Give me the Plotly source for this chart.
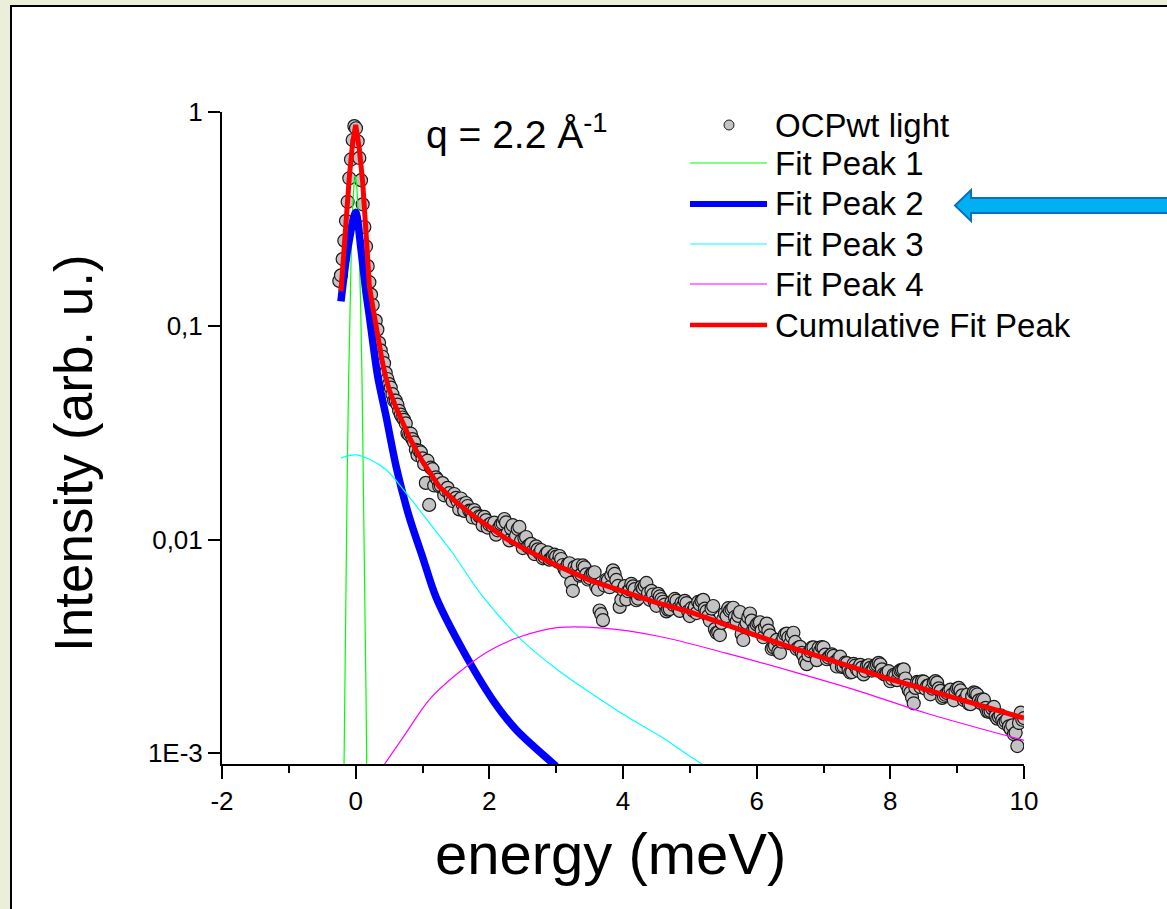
import plotly.graph_objects as go

# ---------------- data ----------------
energy_peak = [-0.245, -0.22, -0.195, -0.17, -0.145, -0.12, -0.095, -0.07, -0.045, -0.02,
               0.005, 0.03, 0.055, 0.08, 0.105, 0.13, 0.155, 0.18, 0.205, 0.23, 0.255]
log_int_peak = [-0.790, -0.764, -0.688, -0.602, -0.509, -0.420, -0.310, -0.222, -0.131, -0.066,
                -0.076, -0.137, -0.215, -0.319, -0.432, -0.538, -0.629, -0.721, -0.796, -0.854, -0.903]

energy_tail = [
    0.30, 0.35, 0.40, 0.45, 0.50, 0.55, 0.60, 0.65, 0.70, 0.75,
    0.80, 0.85, 0.90, 0.95, 1.00, 1.05, 1.10, 1.15, 1.20, 1.25,
    1.30, 1.35, 1.40, 1.45, 1.50, 1.55, 1.60, 1.65, 1.70, 1.75,
    1.80, 1.85, 1.90, 1.95, 2.00, 2.05, 2.10, 2.15, 2.20, 2.25,
    2.30, 2.35, 2.40, 2.45, 2.50, 2.55, 2.60, 2.65, 2.70, 2.75,
    2.80, 2.85, 2.90, 2.95, 3.00, 3.05, 3.10, 3.15, 3.20, 3.25,
    3.30, 3.35, 3.40, 3.45, 3.50, 3.55, 3.60, 3.65, 3.70, 3.75,
    3.80, 3.85, 3.90, 3.95, 4.00, 4.05, 4.10, 4.15, 4.20, 4.25,
    4.30, 4.35, 4.40, 4.45, 4.50, 4.55, 4.60, 4.65, 4.70, 4.75,
    4.80, 4.85, 4.90, 4.95, 5.00, 5.05, 5.10, 5.15, 5.20, 5.25,
    5.30, 5.35, 5.40, 5.45, 5.50, 5.55, 5.60, 5.65, 5.70, 5.75,
    5.80, 5.85, 5.90, 5.95, 6.00, 6.05, 6.10, 6.15, 6.20, 6.25,
    6.30, 6.35, 6.40, 6.45, 6.50, 6.55, 6.60, 6.65, 6.70, 6.75,
    6.80, 6.85, 6.90, 6.95, 7.00, 7.05, 7.10, 7.15, 7.20, 7.25,
    7.30, 7.35, 7.40, 7.45, 7.50, 7.55, 7.60, 7.65, 7.70, 7.75,
    7.80, 7.85, 7.90, 7.95, 8.00, 8.05, 8.10, 8.15, 8.20, 8.25,
    8.30, 8.35, 8.40, 8.45, 8.50, 8.55, 8.60, 8.65, 8.70, 8.75,
    8.80, 8.85, 8.90, 8.95, 9.00, 9.05, 9.10, 9.15, 9.20, 9.25,
    9.30, 9.35, 9.40, 9.45, 9.50, 9.55, 9.60, 9.65, 9.70, 9.75,
    9.80, 9.85, 9.90, 9.95, 10.00]
log_int_tail = [
    -0.976, -1.080, -1.145, -1.220, -1.273, -1.320, -1.350, -1.398, -1.429, -1.457,
    -1.510, -1.530, -1.580, -1.585, -1.620, -1.735, -1.838, -1.671, -1.709, -1.751,
    -1.736, -1.771, -1.783, -1.820, -1.805, -1.859, -1.835, -1.829, -1.865, -1.897,
    -1.878, -1.891, -1.934, -1.909, -1.930, -1.938, -1.977, -1.943, -1.924, -1.920,
    -2.004, -1.933, -1.982, -1.941, -2.040, -1.988, -2.026, -2.054, -2.032, -2.063,
    -2.088, -2.066, -2.094, -2.077, -2.080, -2.077, -2.119, -2.151, -2.111, -2.240,
    -2.142, -2.169, -2.121, -2.163, -2.180, -2.156, -2.221, -2.332, -2.377, -2.188,
    -2.223, -2.144, -2.189, -2.315, -2.235, -2.280, -2.234, -2.219, -2.284, -2.253,
    -2.228, -2.203, -2.282, -2.257, -2.310, -2.266, -2.291, -2.336, -2.325, -2.305,
    -2.286, -2.334, -2.309, -2.297, -2.358, -2.333, -2.344, -2.304, -2.282, -2.335,
    -2.380, -2.311, -2.436, -2.447, -2.372, -2.358, -2.333, -2.319, -2.384, -2.339,
    -2.470, -2.390, -2.346, -2.421, -2.397, -2.387, -2.457, -2.393, -2.448, -2.504,
    -2.469, -2.530, -2.460, -2.440, -2.486, -2.436, -2.512, -2.502, -2.543, -2.583,
    -2.523, -2.504, -2.564, -2.520, -2.505, -2.560, -2.544, -2.544, -2.594, -2.548,
    -2.593, -2.578, -2.622, -2.582, -2.607, -2.586, -2.631, -2.591, -2.600, -2.605,
    -2.585, -2.584, -2.629, -2.624, -2.663, -2.633, -2.658, -2.612, -2.607, -2.682,
    -2.716, -2.766, -2.666, -2.690, -2.665, -2.685, -2.724, -2.669, -2.669, -2.708,
    -2.733, -2.718, -2.702, -2.752, -2.697, -2.706, -2.751, -2.726, -2.770, -2.715,
    -2.725, -2.764, -2.749, -2.804, -2.803, -2.783, -2.838, -2.822, -2.857, -2.842,
    -2.886, -2.911, -2.966, -2.810, -2.835]

# second, interleaved set of channels (the data are denser than one row of circles)
energy_tail_b = [
    0.325, 0.375, 0.425, 0.475, 0.525, 0.575, 0.625, 0.675, 0.725, 0.775,
    0.825, 0.875, 0.925, 0.975, 1.025, 1.075, 1.125, 1.175, 1.225, 1.275,
    1.325, 1.375, 1.425, 1.475, 1.525, 1.575, 1.625, 1.675, 1.725, 1.775,
    1.825, 1.875, 1.925, 1.975, 2.025, 2.075, 2.125, 2.175, 2.225, 2.275,
    2.325, 2.375, 2.425, 2.475, 2.525, 2.575, 2.625, 2.675, 2.725, 2.775,
    2.825, 2.875, 2.925, 2.975, 3.025, 3.075, 3.125, 3.175, 3.225, 3.275,
    3.325, 3.375, 3.425, 3.475, 3.525, 3.575, 3.625, 3.675, 3.725, 3.775,
    3.825, 3.875, 3.925, 3.975, 4.025, 4.075, 4.125, 4.175, 4.225, 4.275,
    4.325, 4.375, 4.425, 4.475, 4.525, 4.575, 4.625, 4.675, 4.725, 4.775,
    4.825, 4.875, 4.925, 4.975, 5.025, 5.075, 5.125, 5.175, 5.225, 5.275,
    5.325, 5.375, 5.425, 5.475, 5.525, 5.575, 5.625, 5.675, 5.725, 5.775,
    5.825, 5.875, 5.925, 5.975, 6.025, 6.075, 6.125, 6.175, 6.225, 6.275,
    6.325, 6.375, 6.425, 6.475, 6.525, 6.575, 6.625, 6.675, 6.725, 6.775,
    6.825, 6.875, 6.925, 6.975, 7.025, 7.075, 7.125, 7.175, 7.225, 7.275,
    7.325, 7.375, 7.425, 7.475, 7.525, 7.575, 7.625, 7.675, 7.725, 7.775,
    7.825, 7.875, 7.925, 7.975, 8.025, 8.075, 8.125, 8.175, 8.225, 8.275,
    8.325, 8.375, 8.425, 8.475, 8.525, 8.575, 8.625, 8.675, 8.725, 8.775,
    8.825, 8.875, 8.925, 8.975, 9.025, 9.075, 9.125, 9.175, 9.225, 9.275,
    9.325, 9.375, 9.425, 9.475, 9.525, 9.575, 9.625, 9.675, 9.725, 9.775,
    9.825, 9.875, 9.925, 9.975]
log_int_tail_b = [
    -1.018, -1.115, -1.175, -1.249, -1.289, -1.350, -1.369, -1.416, -1.440, -1.503,
    -1.505, -1.545, -1.605, -1.592, -1.647, -1.631, -1.664, -1.747, -1.720, -1.748,
    -1.793, -1.758, -1.803, -1.787, -1.821, -1.808, -1.866, -1.843, -1.866, -1.862,
    -1.903, -1.893, -1.894, -1.944, -1.925, -1.921, -1.957, -1.928, -1.904, -1.969,
    -1.948, -1.997, -1.951, -2.005, -1.994, -2.032, -2.020, -2.068, -2.046, -2.049,
    -2.082, -2.060, -2.088, -2.071, -2.104, -2.091, -2.138, -2.115, -2.202, -2.129,
    -2.121, -2.163, -2.130, -2.187, -2.163, -2.153, -2.234, -2.349, -2.215, -2.190,
    -2.166, -2.161, -2.217, -2.282, -2.218, -2.242, -2.207, -2.232, -2.276, -2.221,
    -2.216, -2.250, -2.240, -2.290, -2.254, -2.279, -2.304, -2.328, -2.293, -2.278,
    -2.322, -2.297, -2.287, -2.336, -2.321, -2.316, -2.292, -2.287, -2.323, -2.358,
    -2.323, -2.419, -2.434, -2.390, -2.345, -2.321, -2.326, -2.362, -2.357, -2.442,
    -2.408, -2.363, -2.379, -2.414, -2.390, -2.425, -2.410, -2.426, -2.511, -2.497,
    -2.522, -2.478, -2.443, -2.458, -2.454, -2.479, -2.505, -2.530, -2.571, -2.541,
    -2.506, -2.532, -2.507, -2.503, -2.538, -2.552, -2.537, -2.572, -2.556, -2.596,
    -2.576, -2.610, -2.620, -2.590, -2.614, -2.599, -2.614, -2.588, -2.613, -2.588,
    -2.577, -2.607, -2.632, -2.616, -2.651, -2.636, -2.620, -2.610, -2.650, -2.704,
    -2.739, -2.694, -2.668, -2.663, -2.698, -2.682, -2.697, -2.662, -2.696, -2.741,
    -2.726, -2.710, -2.725, -2.710, -2.694, -2.729, -2.744, -2.768, -2.733, -2.718,
    -2.752, -2.747, -2.787, -2.806, -2.791, -2.826, -2.830, -2.845, -2.850, -2.874,
    -2.869, -2.904, -2.858, -2.843]
assert len(energy_tail) == len(log_int_tail)
assert len(energy_tail_b) == len(log_int_tail_b)

# fit peak 1 (narrow, green)
e_fit1 = [-0.185, -0.165, -0.145, -0.125, -0.105, -0.085, -0.065, -0.045, -0.025, -0.005,
          0.015, 0.035, 0.055, 0.075, 0.095, 0.115, 0.135, 0.155, 0.175]
i_fit1 = [0.00043, 0.00186, 0.0069, 0.0214, 0.056, 0.123, 0.23, 0.355, 0.46, 0.50,
          0.46, 0.355, 0.23, 0.123, 0.056, 0.0214, 0.0069, 0.00186, 0.00043]

# fit peak 2 (blue)
e_fit2 = [-0.22, -0.12, 0.0, 0.08, 0.155, 0.205, 0.33, 0.455, 0.605, 0.80,
          1.0, 1.2, 1.6, 2.05, 2.4, 3.0]
i_fit2 = [0.13, 0.228, 0.34, 0.228, 0.143, 0.111, 0.058, 0.0377, 0.022, 0.0128,
          0.0083, 0.0054, 0.00305, 0.00178, 0.00129, 0.00087]

# fit peak 3 (cyan)
e_fit3 = [-0.22, 0.0, 0.2, 0.455, 0.755, 1.1, 1.45, 1.9, 2.5, 3.05, 3.5, 4.05, 4.6, 5.04, 5.4]
i_fit3 = [0.0241, 0.0249, 0.0238, 0.0212, 0.0165, 0.0120, 0.00865, 0.00542, 0.00335, 0.00242,
          0.00193, 0.00149, 0.00118, 0.00095, 0.00081]

# fit peak 4 (magenta)
e_fit4 = [0.40, 0.75, 1.1, 1.5, 2.0, 2.45, 3.05, 3.7, 4.55, 5.54, 6.54, 7.54, 8.54, 10.0]
i_fit4 = [0.00086, 0.00124, 0.00178, 0.00233, 0.00302, 0.0035, 0.00388, 0.00385, 0.00352,
          0.00294, 0.00241, 0.00195, 0.00154, 0.00115]

# cumulative fit (red)
e_cum = [-0.22, -0.195, -0.144, -0.094, -0.045, 0.0, 0.055, 0.105, 0.155, 0.205,
         0.28, 0.35, 0.4, 0.45, 0.5, 0.6, 0.7, 0.8, 0.9, 1.0,
         1.25, 1.5, 1.75, 2.0, 2.25, 2.5, 2.75, 3.0, 3.5, 4.0,
         4.5, 5.0, 5.5, 6.0, 6.5, 7.0, 7.5, 8.0, 8.5, 9.0, 9.5, 10.0]
i_cum = [0.145, 0.19, 0.326, 0.50, 0.72, 0.87, 0.67, 0.47, 0.272, 0.153,
         0.111, 0.0794, 0.0676, 0.0575, 0.0503, 0.0417, 0.0352, 0.0302, 0.0263, 0.0232,
         0.0177, 0.0150, 0.0130, 0.0115, 0.0101, 0.00912, 0.00832, 0.00759, 0.00646, 0.00569,
         0.00507, 0.00459, 0.00401, 0.00355, 0.00314, 0.00279, 0.00247, 0.00222, 0.00200,
         0.00180, 0.00162, 0.00146]

x_ticks = [-2, 0, 2, 4, 6, 8, 10]
x_ticktext = ["-2", "0", "2", "4", "6", "8", "10"]
y_ticks = [1, 0.1, 0.01, 0.001]
y_ticktext = ["1", "0,1", "0,01", "1E-3"]

series_names = ["OCPwt light", "Fit Peak 1", "Fit Peak 2", "Fit Peak 3", "Fit Peak 4",
                "Cumulative Fit Peak"]

# ---------------- layout helpers ----------------
W, H = 1167, 909
ML, MR, MT, MB = 222, 143, 112, 145
PW, PH = W - ML - MR, H - MT - MB


def fx(p):
    return (p - ML) / PW


def fy(p):
    return (H - MB - p) / PH


FONT = "Liberation Sans, Arial, sans-serif"

# merge the channels in energy order
pairs = sorted(zip(energy_peak + energy_tail + energy_tail_b,
                   log_int_peak + log_int_tail + log_int_tail_b))
energy_all = [p[0] for p in pairs]
intensity_all = [10 ** p[1] for p in pairs]

fig = go.Figure()
fig.add_trace(go.Scatter(x=energy_all, y=intensity_all, mode="markers", name=series_names[0],
                         marker=dict(size=13, color="#c3c3c3",
                                     line=dict(color="#1a1a1a", width=1.2)),
                         showlegend=False))
fig.add_trace(go.Scatter(x=e_fit1, y=i_fit1, mode="lines", name=series_names[1],
                         line=dict(color="#00ff00", width=1.2), showlegend=False))
fig.add_trace(go.Scatter(x=e_fit2, y=i_fit2, mode="lines", name=series_names[2],
                         line=dict(color="#0000ff", width=7.5, shape="spline", smoothing=0.8),
                         showlegend=False))
fig.add_trace(go.Scatter(x=e_fit3, y=i_fit3, mode="lines", name=series_names[3],
                         line=dict(color="#00ffff", width=1.2, shape="spline"), showlegend=False))
fig.add_trace(go.Scatter(x=e_fit4, y=i_fit4, mode="lines", name=series_names[4],
                         line=dict(color="#ff00ff", width=1.2, shape="spline"), showlegend=False))
fig.add_trace(go.Scatter(x=e_cum, y=i_cum, mode="lines", name=series_names[5],
                         line=dict(color="#ff0000", width=5), showlegend=False))

shapes = []
# white slide panel with black frame
shapes.append(dict(type="rect", xref="paper", yref="paper", layer="below",
                   x0=fx(11), x1=fx(1180), y0=fy(6), y1=fy(920),
                   fillcolor="white", line=dict(color="black", width=2)))

# manual legend (long line samples like the original)
leg_y = [125, 163, 204, 244, 284, 325]
leg_styles = [None, ("#00ff00", 1.2), ("#0000ff", 6), ("#00ffff", 1.2), ("#ff00ff", 1.2),
              ("#ff0000", 4.5)]
shapes.append(dict(type="circle", xref="paper", yref="paper",
                   x0=fx(724), x1=fx(734), y0=fy(130), y1=fy(120),
                   fillcolor="#c3c3c3", line=dict(color="#1a1a1a", width=1)))
for yy, st in zip(leg_y[1:], leg_styles[1:]):
    shapes.append(dict(type="line", xref="paper", yref="paper",
                       x0=fx(690), x1=fx(767), y0=fy(yy), y1=fy(yy),
                       line=dict(color=st[0], width=st[1])))

# arrow pointing to "Fit Peak 2"
pts = [(955, 205.5), (971, 190), (971, 198), (1185, 198), (1185, 213), (971, 213), (971, 221)]
path = "M " + " L ".join(f"{fx(a):.5f},{fy(b):.5f}" for a, b in pts) + " Z"
shapes.append(dict(type="path", xref="paper", yref="paper", path=path,
                   fillcolor="#00b0f0", line=dict(color="#0b6fc0", width=2)))

annotations = []
for name, yy in zip(series_names, leg_y):
    annotations.append(dict(xref="paper", yref="paper", x=fx(773), y=fy(yy),
                            xanchor="left", yanchor="middle", showarrow=False,
                            text=name, font=dict(family=FONT, size=33, color="black")))
annotations.append(dict(xref="paper", yref="paper", x=fx(424), y=fy(131),
                        xanchor="left", yanchor="middle", showarrow=False,
                        text="q = 2.2 Å<sup>-1</sup>",
                        font=dict(family=FONT, size=39, color="black")))
# axis titles
annotations.append(dict(xref="paper", yref="paper", x=fx(73), y=fy(453),
                        xanchor="center", yanchor="middle", showarrow=False, textangle=-90,
                        text="Intensity (arb. u.)",
                        font=dict(family=FONT, size=53, color="black")))
annotations.append(dict(xref="paper", yref="paper", x=fx(610), y=fy(853),
                        xanchor="center", yanchor="middle", showarrow=False,
                        text="energy (meV)",
                        font=dict(family=FONT, size=58, color="black")))

fig.update_layout(
    width=W, height=H,
    margin=dict(l=ML, r=MR, t=MT, b=MB, pad=0),
    paper_bgcolor="#ebeed9",
    plot_bgcolor="rgba(0,0,0,0)",
    shapes=shapes,
    annotations=annotations,
    font=dict(family=FONT, color="black"),
    xaxis=dict(range=[-2, 10], tickmode="array", tickvals=x_ticks, ticktext=x_ticktext,
               ticks="outside", ticklen=13, tickwidth=2, tickcolor="black",
               showline=True, linecolor="black", linewidth=2,
               showgrid=False, zeroline=False,
               minor=dict(dtick=1, tick0=0, ticks="outside", ticklen=7, tickwidth=2,
                          tickcolor="black", showgrid=False),
               tickfont=dict(family=FONT, size=26, color="black")),
    yaxis=dict(type="log", range=[-3.05, 0], tickmode="array", tickvals=y_ticks,
               ticktext=y_ticktext,
               ticks="outside", ticklen=12, tickwidth=2, tickcolor="black",
               showline=True, linecolor="black", linewidth=2,
               showgrid=False, zeroline=False,
               tickfont=dict(family=FONT, size=26, color="black")),
)

fig.write_html("out.html")
